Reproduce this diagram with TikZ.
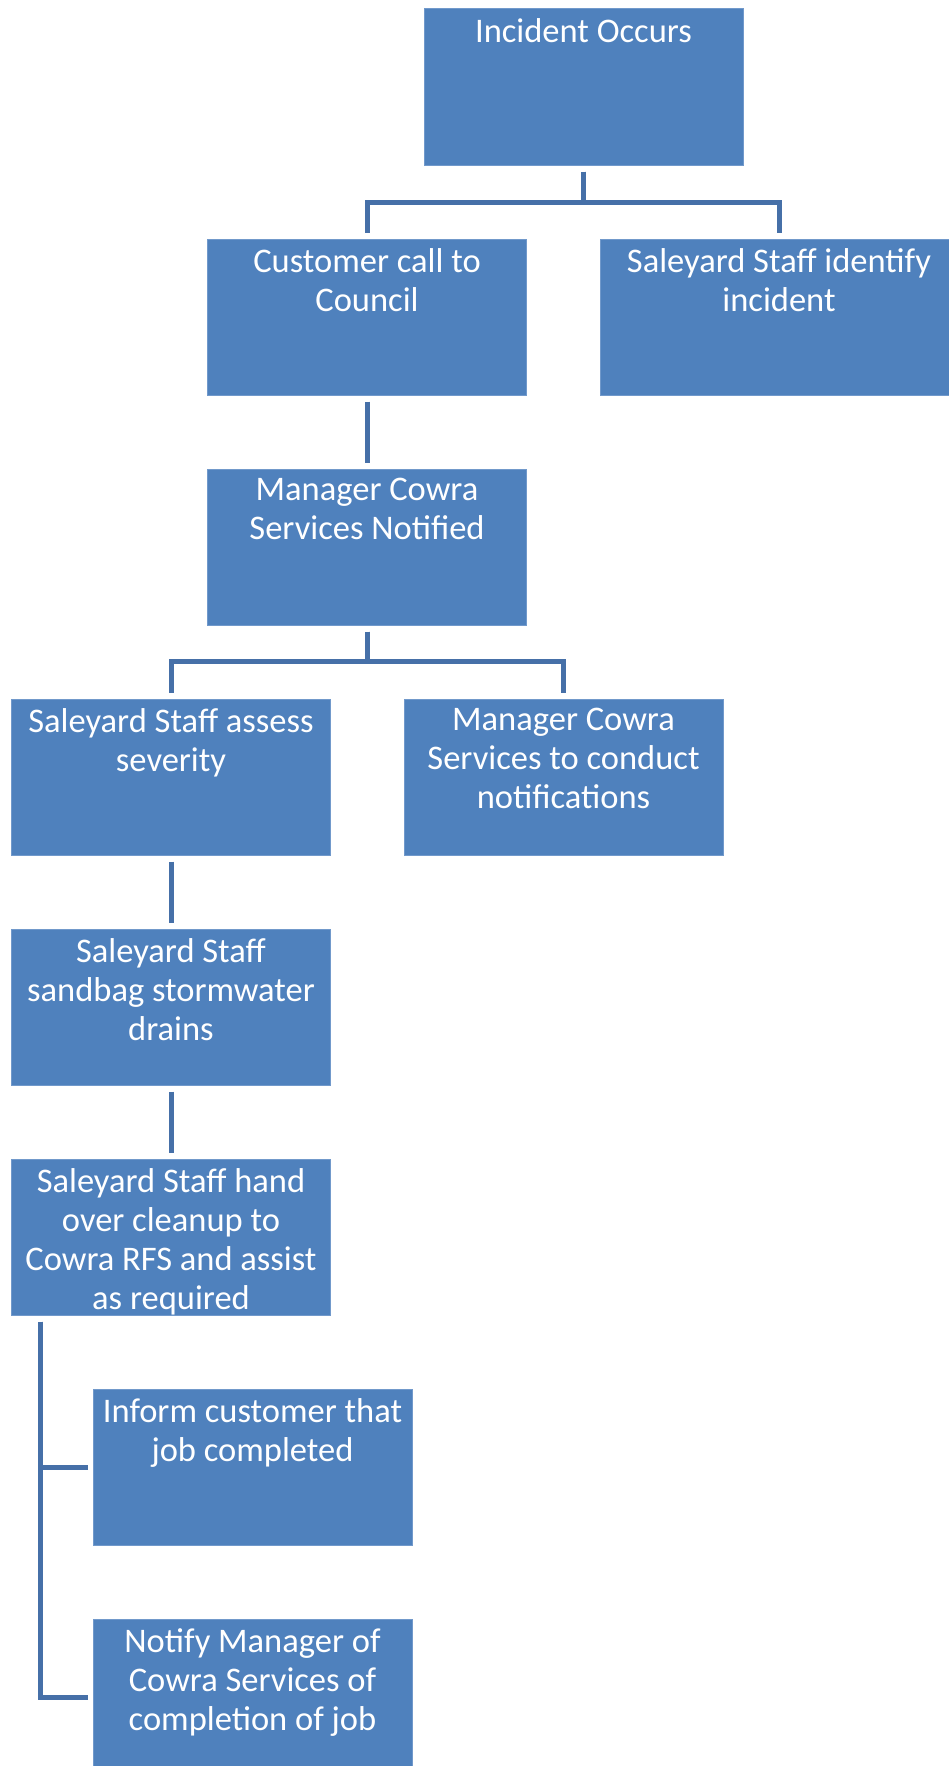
\documentclass[tikz,border=0pt]{standalone}
\usepackage{fontspec}
\setmainfont{Carlito}
\definecolor{boxblue}{HTML}{4F81BD}
\definecolor{boxedge}{HTML}{7199CB}
\definecolor{linkblue}{HTML}{4670A8}
\newcommand{\steptext}[1]{\parbox[c][137pt][t]{315pt}{\centering #1}}
\tikzset{
  stage/.style={rectangle, fill=boxblue, draw=boxedge, line width=1pt,
    minimum width=319pt, minimum height=156pt, inner sep=0pt,
    text=white, font=\fontsize{34.5}{39}\selectfont},
  link/.style={draw=linkblue, line width=5pt, shorten <=6pt, shorten >=6pt}
}
\begin{document}
\begin{tikzpicture}[x=1pt, y=-1pt]
\clip (0,0) rectangle (949,1766);
\fill [white] (0,0) rectangle (949,1766);
\node [stage] (incident) at (583.5,87) {\steptext{Incident Occurs}};
\node [stage] (customer) at (367,317) {\steptext{Customer call to\\Council}};
\node [stage, minimum width=358pt] (identify) at (779,317) {\steptext{Saleyard Staff identify\\incident}};
\node [stage] (manager) at (367,547) {\steptext{Manager Cowra\\Services Notified}};
\node [stage] (assess) at (171,777) {\steptext{Saleyard Staff assess\\severity}};
\node [stage] (conduct) at (563.5,777) {\steptext{Manager Cowra\\Services to conduct\\notifications}};
\node [stage] (sandbag) at (171,1007) {\steptext{Saleyard Staff\\sandbag stormwater\\drains}};
\node [stage] (hand) at (171,1237) {\steptext{Saleyard Staff hand\\over cleanup to\\Cowra RFS and assist\\as required}};
\node [stage] (inform) at (252.5,1467) {\steptext{Inform customer that\\job completed}};
\node [stage] (notify) at (252.5,1697) {\steptext{Notify Manager of\\Cowra Services of\\completion of job}};
\draw [link] (incident.south) -- ++(0,37) -| (customer.north);
\draw [link] (incident.south) -- ++(0,37) -| (identify.north);
\draw [link] (customer.south) -- (manager.north);
\draw [link] (manager.south) -- ++(0,36) -| (assess.north);
\draw [link] (manager.south) -- ++(0,36) -| (conduct.north);
\draw [link] (assess.south) -- (sandbag.north);
\draw [link] (sandbag.south) -- (hand.north);
\draw [link, shorten >=5pt] ([xshift=29pt]hand.south west) |- (inform.west);
\draw [link, shorten >=5pt] ([xshift=29pt]hand.south west) |- (notify.west);
\end{tikzpicture}
\end{document}
